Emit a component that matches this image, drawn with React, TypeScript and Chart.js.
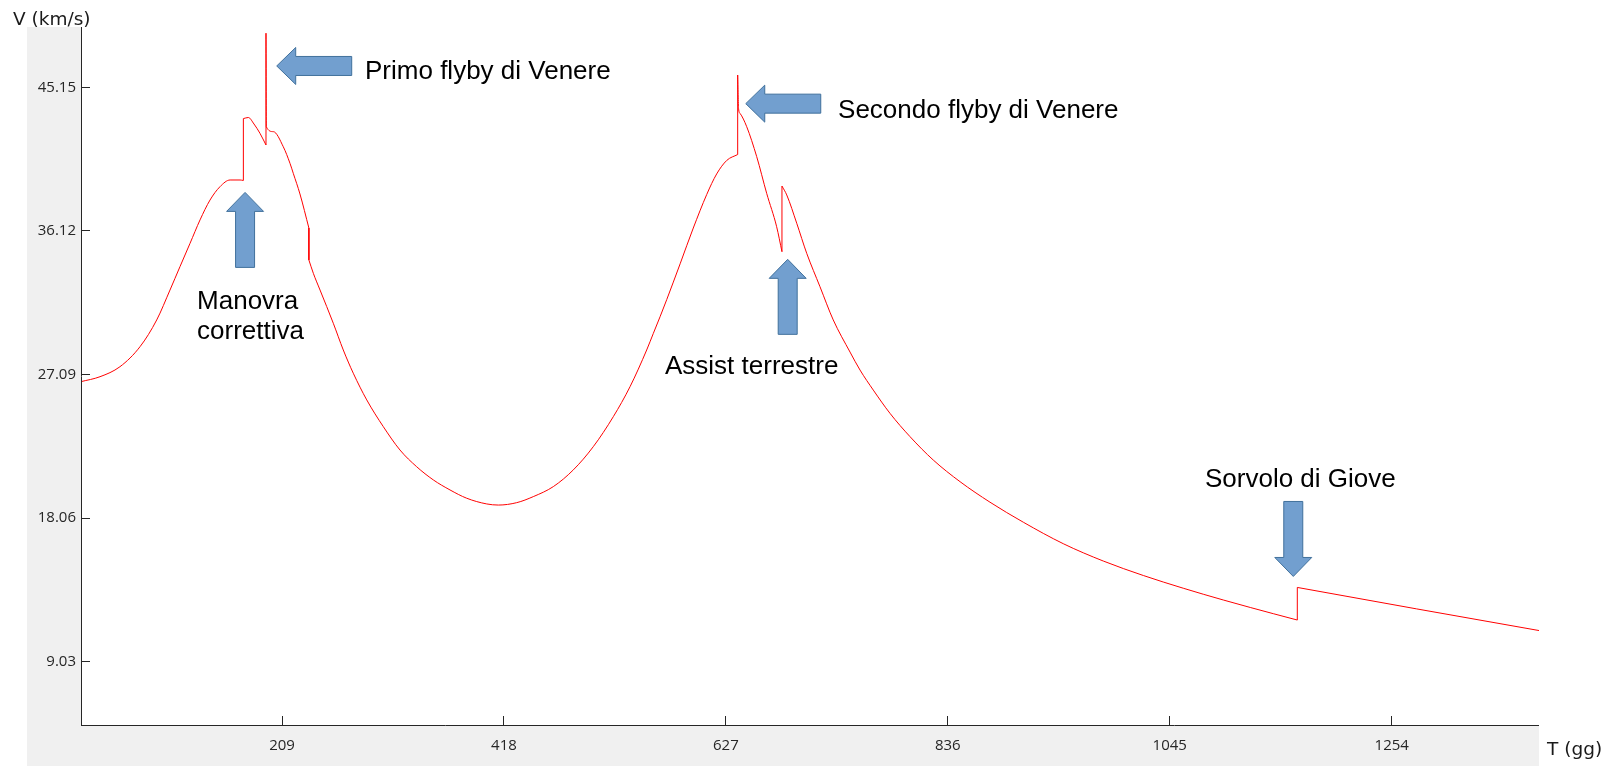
import React, { useEffect, useRef } from 'react';
import { Chart, registerables } from 'chart.js';

Chart.register(...registerables);

// Mission time (days) and heliocentric speed (km/s) of the probe.
// Repeated days mark the instantaneous jumps (manoeuvres and flybys).
const DAYS = [
  19.7, 37.6, 56.4, 75.3, 91.0, 103.5, 112.9, 122.4, 131.8, 141.2,
  150.6, 160.1, 169.5, 172.6, 172.6, 177.3, 182.6, 188.2, 193.9, 193.9,
  194.2, 200.8, 210.2, 216.5, 219.6, 225.9, 234.3, 234.3, 238.5, 244.8,
  257.3, 266.7, 276.1, 288.8, 304.4, 320.1, 335.8, 351.5, 367.2, 382.9,
  401.8, 412.7, 430.0, 445.6, 464.5, 483.3, 502.1, 521.0, 536.7, 552.4,
  558.7, 565.0, 571.3, 577.5, 583.9, 596.3, 608.9, 618.3, 627.8, 638.1,
  638.1, 638.9, 640.3, 646.6, 656.0, 665.4, 674.8, 679.8, 679.8, 684.3,
  693.7, 703.1, 715.6, 728.1, 743.9, 753.3, 765.8, 781.5, 800.4, 822.3,
  847.5, 875.7, 907.1, 944.7, 982.4, 1020.1, 1057.7, 1095.4, 1120.8, 1142.5,
  1165.1, 1165.1, 1277.5, 1392.7,
];

const SPEED = [
  26.64, 26.95, 27.58, 28.84, 30.52, 32.40, 33.87, 35.34, 36.81, 38.06,
  38.90, 39.32, 39.32, 39.29, 43.18, 43.25, 42.84, 42.26, 41.52, 48.55,
  42.67, 42.36, 41.41, 40.37, 39.74, 38.44, 36.30, 34.29, 33.45, 32.40,
  30.31, 28.63, 27.17, 25.49, 23.81, 22.34, 21.29, 20.46, 19.83, 19.31,
  18.95, 18.88, 19.03, 19.41, 20.04, 21.09, 22.55, 24.44, 26.32, 28.63,
  29.68, 30.72, 31.80, 32.90, 34.05, 36.30, 38.40, 39.70, 40.55, 40.92,
  45.92, 43.83, 43.51, 42.67, 40.79, 38.48, 36.38, 34.81, 38.94, 38.38,
  36.60, 34.71, 32.61, 30.52, 28.50, 27.37, 26.11, 24.65, 23.18, 21.71,
  20.35, 19.06, 17.80, 16.45, 15.36, 14.45, 13.65, 12.91, 12.44, 12.05,
  11.65, 13.70, 12.35, 10.99,
];

const X_TICKS = [209, 418, 627, 836, 1045, 1254];
const Y_TICKS = [9.03, 18.06, 27.09, 36.12, 45.15];
const X_MIN = 19.7;
const X_MAX = 1392.7;
const Y_MIN = 5.05;
const Y_MAX = 48.94;

const X_TITLE = 'T (gg)';
const Y_TITLE = 'V (km/s)';

// Mission events: where each arrow points (day, km/s) and its caption.
const EVENT_LABELS = [
  ['Manovra', 'correttiva'],
  ['Primo flyby di Venere'],
  ['Secondo flyby di Venere'],
  ['Assist terrestre'],
  ['Sorvolo di Giove'],
];
const EVENT_DAYS = [174.2, 204.0, 645.7, 685.2, 1161.3];
const EVENT_SPEEDS = [38.54, 46.49, 44.12, 34.33, 14.39];
const EVENT_POINTING = ['up', 'left', 'left', 'up', 'down'];

// Caption placement relative to the arrow tip, in pixels.
const CAPTION_OFFSETS = [
  [-48, 116.5],
  [88.3, 13],
  [92.3, 14],
  [-122.7, 114.2],
  [-88.3, -89.5],
];

const AXIS_COLOR = '#262626';
const PANEL_GREY = '#f0f0f0';
const ARROW_FILL = '#729fcf';
const ARROW_EDGE = '#41719c';
const TRACE_COLOR = '#ff0000';

function arrowPath(ctx: CanvasRenderingContext2D, tx: number, ty: number, dir: string) {
  const len = 75;
  const headLen = 19;
  const headHalf = 18.5;
  const shaftHalf = 9.5;
  let back = [1, 0];
  let perp = [0, 1];
  if (dir === 'up') { back = [0, 1]; perp = [1, 0]; }
  if (dir === 'down') { back = [0, -1]; perp = [1, 0]; }
  const local = [
    [0, 0],
    [headLen, -headHalf],
    [headLen, -shaftHalf],
    [len, -shaftHalf],
    [len, shaftHalf],
    [headLen, shaftHalf],
    [headLen, headHalf],
  ];
  ctx.beginPath();
  local.forEach(([u, v], i) => {
    const px = tx + back[0] * u + perp[0] * v;
    const py = ty + back[1] * u + perp[1] * v;
    if (i === 0) ctx.moveTo(px, py);
    else ctx.lineTo(px, py);
  });
  ctx.closePath();
}

// Smooth arcs between events, joined by straight vertical jumps.
function buildTraceDatasets() {
  const runs: { x: number; y: number }[][] = [];
  let current: { x: number; y: number }[] = [];
  DAYS.forEach((d, i) => {
    if (i > 0 && d <= DAYS[i - 1]) {
      runs.push(current);
      current = [];
    }
    current.push({ x: d, y: SPEED[i] });
  });
  runs.push(current);

  const base = {
    borderColor: TRACE_COLOR,
    borderWidth: 1,
    pointRadius: 0,
    fill: false,
  };
  const sets: any[] = [];
  runs.forEach((run, k) => {
    sets.push({ ...base, data: run, cubicInterpolationMode: 'monotone' });
    if (k < runs.length - 1) {
      sets.push({ ...base, data: [run[run.length - 1], runs[k + 1][0]], tension: 0 });
    }
  });
  return sets;
}

const framePlugin = {
  id: 'frame',
  beforeDraw(chart: any) {
    const { ctx, chartArea } = chart;
    const { left, right, top, bottom } = chartArea;
    ctx.save();
    ctx.fillStyle = PANEL_GREY;
    ctx.fillRect(27, top, left - 27, chart.height - top);
    ctx.fillRect(27, bottom, right - 27, chart.height - bottom);
    ctx.restore();
  },
  afterDraw(chart: any) {
    const { ctx, chartArea, scales } = chart;
    const { left, right, top, bottom } = chartArea;
    ctx.save();

    // axis lines
    ctx.strokeStyle = AXIS_COLOR;
    ctx.lineWidth = 1;
    ctx.beginPath();
    ctx.moveTo(left + 0.5, top);
    ctx.lineTo(left + 0.5, bottom + 1);
    ctx.moveTo(left, bottom + 0.5);
    ctx.lineTo(right, bottom + 0.5);
    ctx.stroke();

    // inward tick marks
    ctx.beginPath();
    scales.y.ticks.forEach((t: any) => {
      const y = Math.floor(scales.y.getPixelForValue(t.value)) + 0.5;
      ctx.moveTo(left, y);
      ctx.lineTo(left + 9, y);
    });
    scales.x.ticks.forEach((t: any) => {
      const x = Math.floor(scales.x.getPixelForValue(t.value)) + 0.5;
      ctx.moveTo(x, bottom);
      ctx.lineTo(x, bottom - 9);
    });
    ctx.stroke();

    // axis titles
    ctx.fillStyle = '#1a1a1a';
    ctx.font = '18.5px "DejaVu Sans", sans-serif';
    ctx.textAlign = 'left';
    ctx.textBaseline = 'alphabetic';
    ctx.fillText(Y_TITLE, 13, 25);
    ctx.fillText(X_TITLE, right + 8, 755);

    // event arrows and captions
    EVENT_DAYS.forEach((day, i) => {
      const tx = scales.x.getPixelForValue(day);
      const ty = scales.y.getPixelForValue(EVENT_SPEEDS[i]);
      arrowPath(ctx, tx, ty, EVENT_POINTING[i]);
      ctx.fillStyle = ARROW_FILL;
      ctx.fill();
      ctx.strokeStyle = ARROW_EDGE;
      ctx.lineWidth = 1;
      ctx.stroke();

      ctx.fillStyle = '#000000';
      ctx.font = '26px "Liberation Sans", Arial, sans-serif';
      ctx.textAlign = 'left';
      ctx.textBaseline = 'alphabetic';
      const [dx, dy] = CAPTION_OFFSETS[i];
      EVENT_LABELS[i].forEach((line, k) => {
        ctx.fillText(line, tx + dx, ty + dy + k * 30);
      });
    });

    ctx.restore();
  },
};

export default function App() {
  const canvasRef = useRef<HTMLCanvasElement>(null);

  useEffect(() => {
    const canvas = canvasRef.current;
    if (!canvas) return;
    const tickFont = { family: '"Open Sans", sans-serif', size: 15 };

    const chart = new Chart(canvas, {
      type: 'line',
      data: { datasets: buildTraceDatasets() },
      options: {
        responsive: false,
        animation: false,
        devicePixelRatio: 1,
        events: [],
        layout: { padding: { top: 27, right: 65, left: 0, bottom: 0 } },
        plugins: {
          legend: { display: false },
          tooltip: { enabled: false },
        },
        scales: {
          x: {
            type: 'linear',
            min: X_MIN,
            max: X_MAX,
            grid: { display: false, drawTicks: false },
            border: { display: false },
            afterBuildTicks: (s: any) => {
              s.ticks = X_TICKS.map((v) => ({ value: v }));
            },
            afterFit: (s: any) => {
              s.height = 41;
            },
            ticks: {
              font: tickFont,
              color: AXIS_COLOR,
              padding: 12,
              maxRotation: 0,
              autoSkip: false,
              callback: (v: any) => String(v),
            },
          },
          y: {
            type: 'linear',
            min: Y_MIN,
            max: Y_MAX,
            grid: { display: false, drawTicks: false },
            border: { display: false },
            afterBuildTicks: (s: any) => {
              s.ticks = Y_TICKS.map((v) => ({ value: v }));
            },
            afterFit: (s: any) => {
              s.width = 81;
            },
            ticks: {
              font: tickFont,
              color: AXIS_COLOR,
              padding: 5,
              autoSkip: false,
              callback: (v: any) => Number(v).toFixed(2),
            },
          },
        },
      },
      plugins: [framePlugin],
    } as any);

    return () => chart.destroy();
  }, []);

  return (
    <div style={{ position: 'absolute', left: 0, top: 0, width: 1604, height: 766, background: '#ffffff' }}>
      <canvas ref={canvasRef} width={1604} height={766} style={{ display: 'block' }} />
    </div>
  );
}
